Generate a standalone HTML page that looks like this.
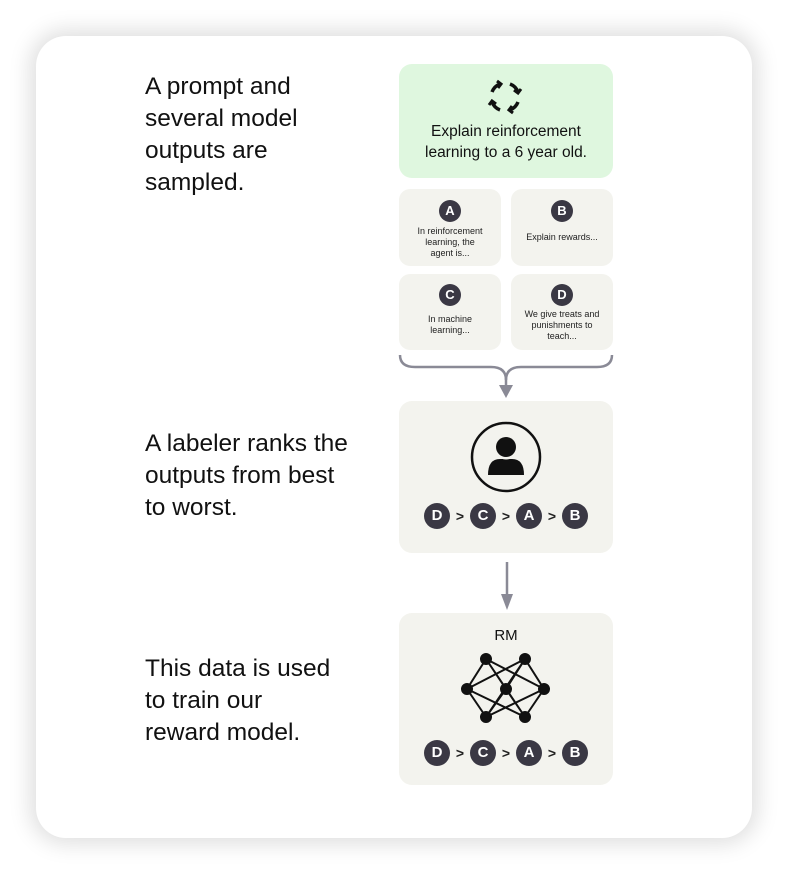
<!DOCTYPE html>
<html><head><style>
body{margin:0;width:788px;height:874px;background:#fff;position:relative;overflow:hidden;font-family:"Liberation Sans",sans-serif;}
.card{position:absolute;left:36px;top:36px;width:716px;height:802px;background:#fff;border-radius:30px;box-shadow:0 0 22px 6px rgba(0,0,0,0.13);}
.lt{position:absolute;left:145px;font-size:24.5px;line-height:32px;color:#111;}
.box{position:absolute;background:#f3f3ee;border-radius:13px;}
.sm{position:absolute;width:102px;background:#f3f3ee;border-radius:11px;text-align:center;font-size:9px;line-height:11px;color:#222;}
.c{display:inline-block;width:22px;height:22px;border-radius:50%;background:#3a3844;color:#fff;font-weight:bold;font-size:13px;line-height:22px;text-align:center;}
.rank{position:absolute;left:0;width:214px;text-align:center;font-size:14px;font-weight:bold;color:#222;}
.rank .c{width:26px;height:26px;line-height:26px;font-size:15px;vertical-align:middle;}
.rank .g{display:inline-block;width:20px;text-align:center;vertical-align:middle;}
</style></head><body>
<div class="card"></div>
<div class="lt" style="top:71px">A prompt and<br>several model<br>outputs are<br>sampled.</div>
<div class="lt" style="top:428px">A labeler ranks the<br>outputs from best<br>to worst.</div>
<div class="lt" style="top:653px">This data is used<br>to train our<br>reward model.</div>

<div class="box" style="left:399px;top:64px;width:214px;height:114px;background:#dff7df;">
<svg style="position:absolute;left:88px;top:15px" width="36" height="36" viewBox="0 0 36 36" fill="none" stroke="#111" stroke-width="3.5">
<path d="M5 13 A14 14 0 0 1 13 5"/><path d="M23 5 A14 14 0 0 1 31 13"/><path d="M31 23 A14 14 0 0 1 23 31"/><path d="M13 31 A14 14 0 0 1 5 23"/>
<path d="M10 2 L14 5 L11 9" stroke-width="3"/><path d="M34 10 L31 14 L27 11" stroke-width="3"/><path d="M26 34 L22 31 L25 27" stroke-width="3"/><path d="M2 26 L5 22 L9 25" stroke-width="3"/>
</svg>
<div style="position:absolute;top:57px;width:100%;text-align:center;font-size:15.5px;line-height:21px;color:#111">Explain reinforcement<br>learning to a 6 year old.</div>
</div>

<div class="sm" style="left:399px;top:189px;height:77px"><div class="c" style="margin-top:11px">A</div><div style="margin-top:4px">In reinforcement<br>learning, the<br>agent is...</div></div>
<div class="sm" style="left:511px;top:189px;height:77px"><div class="c" style="margin-top:11px">B</div><div style="margin-top:10px">Explain rewards...</div></div>
<div class="sm" style="left:399px;top:274px;height:76px"><div class="c" style="margin-top:10px">C</div><div style="margin-top:8px">In machine<br>learning...</div></div>
<div class="sm" style="left:511px;top:274px;height:76px"><div class="c" style="margin-top:10px">D</div><div style="margin-top:3px">We give treats and<br>punishments to<br>teach...</div></div>

<svg style="position:absolute;left:395px;top:350px" width="225" height="52">
<path d="M5 5 Q5 17 20 17 L96 17 Q111 17 111 30 Q111 17 126 17 L202 17 Q217 17 217 5" fill="none" stroke="#8a8a96" stroke-width="2.5"/>
<line x1="111" y1="28" x2="111" y2="38" stroke="#8a8a96" stroke-width="2.5"/>
<polygon points="104,35 118,35 111,48" fill="#8a8a96"/>
</svg>

<div class="box" style="left:399px;top:401px;width:214px;height:152px;">
<svg style="position:absolute;left:71px;top:20px" width="72" height="72" viewBox="0 0 72 72">
<circle cx="36" cy="36" r="34" fill="none" stroke="#111" stroke-width="2.5"/>
<path d="M18 54 Q18 38 30 38 L42 38 Q54 38 54 54 Z" fill="#111"/>
<circle cx="36" cy="26" r="12.5" fill="#f3f3ee"/>
<circle cx="36" cy="26" r="10" fill="#111"/>
</svg>
<div class="rank" style="top:102px"><span class="c">D</span><span class="g">&gt;</span><span class="c">C</span><span class="g">&gt;</span><span class="c">A</span><span class="g">&gt;</span><span class="c">B</span></div>
</div>

<svg style="position:absolute;left:497px;top:560px" width="20" height="52">
<line x1="10" y1="2" x2="10" y2="36" stroke="#8a8a96" stroke-width="2.5"/>
<polygon points="4,34 16,34 10,50" fill="#8a8a96"/>
</svg>

<div class="box" style="left:399px;top:613px;width:214px;height:172px;">
<div style="position:absolute;top:14px;width:100%;text-align:center;font-size:15px;color:#111">RM</div>
<svg style="position:absolute;left:60px;top:40px" width="94" height="70" viewBox="0 0 94 70" stroke="#111" stroke-width="2" fill="#111">
<g fill="none"><path d="M27 6 L8 36 L27 64 M27 6 L47 36 L27 64 M27 6 L85 36 M27 6 L66 64 M66 6 L85 36 L66 64 M66 6 L47 36 L66 64 M66 6 L8 36 M66 6 L27 64 M8 36 L66 64 M85 36 L27 64"/></g>
<circle cx="27" cy="6" r="5"/><circle cx="66" cy="6" r="5"/><circle cx="8" cy="36" r="5"/><circle cx="47" cy="36" r="5"/><circle cx="85" cy="36" r="5"/><circle cx="27" cy="64" r="5"/><circle cx="66" cy="64" r="5"/>
</svg>
<div class="rank" style="top:127px"><span class="c">D</span><span class="g">&gt;</span><span class="c">C</span><span class="g">&gt;</span><span class="c">A</span><span class="g">&gt;</span><span class="c">B</span></div>
</div>
</body></html>
